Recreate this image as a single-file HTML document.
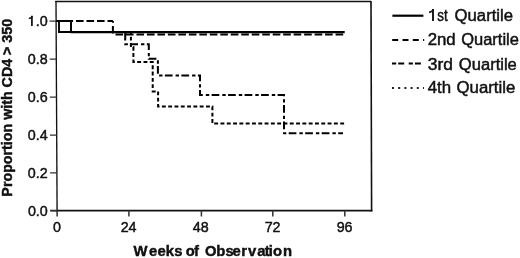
<!DOCTYPE html>
<html><head><meta charset="utf-8"><style>
html,body{margin:0;padding:0;background:#fff;width:520px;height:258px;overflow:hidden}
svg{display:block;filter:grayscale(1)}
text{font-family:"Liberation Sans",sans-serif;fill:#111;stroke:#111;stroke-width:0.45}
</style></head><body>
<svg width="520" height="258" viewBox="0 0 520 258">
<!-- frame -->
<g stroke="#111" fill="none">
<path d="M55.3,1.5H371" stroke-width="1.4"/>
<path d="M371,0.9L371.6,211.4" stroke-width="1.6"/>
<path d="M56,0.9L57.1,211.4" stroke-width="1.35"/>
<path d="M50.3,210.6H372.4" stroke-width="1.7"/>
</g>
<g stroke="#333" stroke-width="1.4" fill="none">
<!-- y ticks -->
<path d="M49.6,21.1H56.3M49.7,59.1H56.5M49.8,97.1H56.7M49.9,135.1H56.9M50.1,172.9H57M50.3,210.6H57.1"/>
<!-- x ticks -->
<path d="M57.1,210.6V216.6M128.9,210.6V216.5M201.4,210.6V216.5M272.8,210.6V216.5M344.8,210.6V216.5" stroke-width="1.5"/>
</g>
<g font-size="14.3" text-anchor="end">
<text x="47.6" y="25.8">.0</text>
<text x="47.6" y="63.9">0.8</text>
<text x="47.6" y="101.9">0.6</text>
<text x="47.6" y="139.8">0.4</text>
<text x="47.6" y="177.8">0.2</text>
<text x="47.8" y="215.8">0.0</text>
</g>
<g font-size="14.3" text-anchor="middle">
<text x="57.1" y="231.8">0</text>
<text x="128.6" y="231.8">24</text>
<text x="200.8" y="231.8">48</text>
<text x="272.6" y="231.8">72</text>
<text x="344.6" y="231.8">96</text>
</g>
<text x="133.59 148.92 157.52 165.77 174.18 182.41 185.72 193.95 198.88 205.09 216.22 225.38 232.52 241.22 247.94 257.17 264.82 268.67 273.02 283.02" y="256.4" font-size="14.8" font-weight="bold">Weeks of Observation</text>
<text transform="translate(11.7,107.75) rotate(-90)" font-size="14.25" font-weight="bold" text-anchor="middle">Proportion with CD4 &gt; 350</text>
<!-- custom "1" glyphs -->
<g fill="none" stroke="#111" stroke-linecap="butt">
<path d="M31.9,25.9V15.8" stroke-width="1.75"/>
<path d="M32.3,16.2C31.6,17.7 30.4,18.4 28.8,18.6" stroke-width="1.5"/>
<path d="M433,21.1V9.0" stroke-width="1.9"/>
<path d="M433.4,9.4C432.6,11.2 431.2,12.1 429.1,12.4" stroke-width="1.6"/>
</g>
<!-- curves -->
<g fill="none" stroke="#000" stroke-width="2" stroke-linejoin="miter" stroke-linecap="butt">
<!-- 1st: solid -->
<path d="M56,21H59V32H71.5" stroke-width="1.9"/>
<path d="M70.5,32.1H344.7" stroke-width="2.2"/>
<!-- 2nd: dashed -->
<path d="M56,21H112.9" stroke-dasharray="7.6 2.9" stroke-dashoffset="1"/>
<path d="M112.9,21V34.5" stroke-dasharray="1.8 3.2 7.5 10"/>
<path d="M112.9,34.5H344" stroke-dasharray="7.6 2.88" stroke-dashoffset="7.88"/>
<!-- 3rd: dash-dot -->
<path d="M71,21V32.1H125.2V44.2H148.8V58.8H157.9V75.6H200V94.9H284V133.3H343" stroke-dasharray="7.7 3 3.4 2.4"/>
<!-- 4th: dotted -->
<path d="M71,21V32.1H130.9V47H133.4V61.9H152.7V91.4H158.1V106.5H212.4V123.5H345" stroke-dasharray="3.9 2.4"/>
<path d="M56,21H71.5"/>
<path d="M71,21V32.1" stroke-width="1.7"/>
</g>
<!-- legend -->
<g fill="none" stroke="#000" stroke-width="2">
<path d="M392.4,15.7H423.4" stroke-width="2.2"/>
<path d="M392.2,40H424.2" stroke-dasharray="6 4.3"/>
<path d="M392,63.6H421" stroke-dasharray="4.2 2 6 4.5"/>
<path d="M392,88H424" stroke-dasharray="2 4.2" stroke="#222" stroke-width="1.8"/>
</g>
<g font-size="15.8">
<text x="437.23" y="21.0" textLength="10.47" lengthAdjust="spacingAndGlyphs">st</text><text x="454.61" y="21.0" textLength="58.43" lengthAdjust="spacingAndGlyphs">Quartile</text>
<text x="427.66" y="45.3" textLength="28.03" lengthAdjust="spacingAndGlyphs">2nd</text><text x="461.22" y="45.3" textLength="57.71" lengthAdjust="spacingAndGlyphs">Quartile</text>
<text x="427.84" y="69.6" textLength="25.19" lengthAdjust="spacingAndGlyphs">3rd</text><text x="458.82" y="69.6" textLength="58.02" lengthAdjust="spacingAndGlyphs">Quartile</text>
<text x="427.71" y="92.9" textLength="23.38" lengthAdjust="spacingAndGlyphs">4th</text><text x="456.5" y="92.9" textLength="58.84" lengthAdjust="spacingAndGlyphs">Quartile</text>
</g>
</svg>
</body></html>
